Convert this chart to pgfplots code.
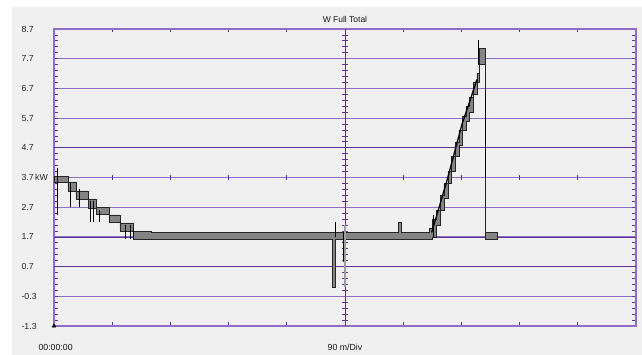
\documentclass[border=0pt]{standalone}
\usepackage{pgfplots}
\pgfplotsset{compat=1.18}
\usepackage{fontspec}
\setmainfont{Liberation Sans}
\definecolor{bgc}{HTML}{F0F0F0}
\definecolor{pdark}{HTML}{5E3399}
\definecolor{plight}{HTML}{8F6CC6}
\definecolor{bandc}{HTML}{848484}
\begin{document}
\begin{tikzpicture}
\fill[white] (-54bp,-29bp) rectangle (588bp,326bp);
\fill[bgc] (-42bp,-29bp) rectangle (588bp,319bp);
\begin{axis}[
  at={(0,0)}, anchor=south west,
  scale only axis, width=582bp, height=297bp,
  xmin=0, xmax=900, ymin=-1.3, ymax=8.7,
  axis line style={draw=plight, line width=1.2pt},
  xtick={0,90,180,270,360,450,540,630,720,810,900},
  xticklabels={},
  ytick={-1.3,-0.3,0.7,1.7,2.7,3.7,4.7,5.7,6.7,7.7,8.7},
  yticklabels={-1.3,-0.3,0.7,1.7,2.7,3.7\,kW,4.7,5.7,6.7,7.7,8.7},
  minor y tick num=4,
  tick align=inside,
  major tick length=3.5bp, minor tick length=4bp,
  tick style={draw=pdark, line width=0.8pt},
  yticklabel style={anchor=west, xshift=-36bp, font=\fontsize{8.8}{10}\selectfont, text=black!85},
  ymajorgrids,
  major grid style={draw=plight, line width=1.1pt},
  clip=false,
]
% darker grid lines
\addplot[pdark, line width=0.8pt, unbounded coords=jump] coordinates {
(0,4.7) (900,4.7) (900,nan) (0,1.7) (900,1.7) (900,nan) (0,0.7) (900,0.7)};
% centre vertical line
\addplot[pdark, line width=0.9pt] coordinates {(450,-1.3) (450,8.7)};
% crosshair ticks (vertical centre line, every 0.2)
\addplot[pdark, line width=0.8pt, unbounded coords=jump] coordinates {
(445.4,-1.1)(454.6,-1.1)(0,nan) (445.4,-0.9)(454.6,-0.9)(0,nan) (445.4,-0.7)(454.6,-0.7)(0,nan) (445.4,-0.5)(454.6,-0.5)(0,nan)
(445.4,-0.1)(454.6,-0.1)(0,nan) (445.4,0.1)(454.6,0.1)(0,nan) (445.4,0.3)(454.6,0.3)(0,nan) (445.4,0.5)(454.6,0.5)(0,nan)
(445.4,0.9)(454.6,0.9)(0,nan) (445.4,1.1)(454.6,1.1)(0,nan) (445.4,1.3)(454.6,1.3)(0,nan) (445.4,1.5)(454.6,1.5)(0,nan)
(445.4,1.9)(454.6,1.9)(0,nan) (445.4,2.1)(454.6,2.1)(0,nan) (445.4,2.3)(454.6,2.3)(0,nan) (445.4,2.5)(454.6,2.5)(0,nan)
(445.4,2.9)(454.6,2.9)(0,nan) (445.4,3.1)(454.6,3.1)(0,nan) (445.4,3.3)(454.6,3.3)(0,nan) (445.4,3.5)(454.6,3.5)(0,nan)
(445.4,3.9)(454.6,3.9)(0,nan) (445.4,4.1)(454.6,4.1)(0,nan) (445.4,4.3)(454.6,4.3)(0,nan) (445.4,4.5)(454.6,4.5)(0,nan)
(445.4,4.9)(454.6,4.9)(0,nan) (445.4,5.1)(454.6,5.1)(0,nan) (445.4,5.3)(454.6,5.3)(0,nan) (445.4,5.5)(454.6,5.5)(0,nan)
(445.4,5.9)(454.6,5.9)(0,nan) (445.4,6.1)(454.6,6.1)(0,nan) (445.4,6.3)(454.6,6.3)(0,nan) (445.4,6.5)(454.6,6.5)(0,nan)
(445.4,6.9)(454.6,6.9)(0,nan) (445.4,7.1)(454.6,7.1)(0,nan) (445.4,7.3)(454.6,7.3)(0,nan) (445.4,7.5)(454.6,7.5)(0,nan)
(445.4,7.9)(454.6,7.9)(0,nan) (445.4,8.1)(454.6,8.1)(0,nan) (445.4,8.3)(454.6,8.3)(0,nan) (445.4,8.5)(454.6,8.5)
};
% crosshair ticks (horizontal centre line at 3.7)
\addplot[pdark, line width=0.8pt, unbounded coords=jump] coordinates {
(90,3.6)(90,3.8)(90,nan) (180,3.6)(180,3.8)(180,nan) (270,3.6)(270,3.8)(270,nan) (360,3.6)(360,3.8)(360,nan)
(540,3.6)(540,3.8)(540,nan) (630,3.6)(630,3.8)(630,nan) (720,3.6)(720,3.8)(720,nan) (810,3.6)(810,3.8)
};
% min / max band (upper envelope, then lower envelope reversed)
\addplot[fill=bandc, draw=black!85, line width=0.6pt] coordinates {
(0,3.75)(21.6,3.75)(21.6,3.55)(34,3.55)(34,3.25)(52.6,3.25)(52.6,2.98)(65,2.98)(65,2.70)(85,2.70)(85,2.44)(102,2.44)(102,2.17)(122,2.17)(122,1.88)(151,1.88)(151,1.86)(533,1.86)(533,2.2)(537,2.2)(537,1.86)(581,1.86)(581,2.0)(585,2.0)(585,2.3)(591,2.3)(591,2.6)(597,2.6)(597,3.1)(603,3.1)(603,3.5)(609,3.5)(609,3.9)(615,3.9)(615,4.4)(620,4.4)(620,4.9)(626,4.9)(626,5.3)(631,5.3)(631,5.75)(637,5.75)(637,6.1)(642,6.1)(642,6.4)(648,6.4)(648,6.9)(654,6.9)(654,7.2)(657,7.2)(657,8.06)(667,8.06)(667,1.86)(685,1.86)
(685,1.63)(667,1.63)(667,7.52)(657,7.52)(657,6.9)(654,6.9)(654,6.5)(648,6.5)(648,5.9)(642,5.9)(642,5.6)(637,5.6)(637,5.3)(631,5.3)(631,4.8)(626,4.8)(626,4.4)(620,4.4)(620,3.9)(615,3.9)(615,3.5)(609,3.5)(609,3.0)(603,3.0)(603,2.6)(597,2.6)(597,2.1)(591,2.1)(591,1.7)(585,1.7)(585,1.63)(435,1.63)(435,0.0)(431,0.0)(431,1.63)(122,1.63)(122,1.90)(102,1.90)(102,2.2)(85,2.2)(85,2.47)(65,2.47)(65,2.67)(52.6,2.67)(52.6,2.98)(34,2.98)(34,3.25)(21.6,3.25)(21.6,3.55)(0,3.55)(0,3.75)
};
% spikes
\addplot[black, line width=0.7pt, unbounded coords=jump] coordinates {
(4.6,4.02) (4.6,2.45) (4.6,nan)
(24.7,3.5) (24.7,2.7) (24.7,nan)
(38.7,3.3) (38.7,2.7) (38.7,nan)
(55.7,2.9) (55.7,2.2) (55.7,nan)
(60.3,2.9) (60.3,2.2) (60.3,nan)
(69.6,2.6) (69.6,2.2) (69.6,nan)
(111,2.1) (111,1.63) (111,nan)
(117.5,2.1) (117.5,1.63) (117.5,nan)
(122,2.0) (122,1.63) (122,nan)
(434.5,2.2) (434.5,1.7) (434.5,nan)
(586,2.44) (586,1.7) (586,nan)
(655.5,8.33) (655.5,7.5)
};
\addplot[bandc!80!white, line width=2.2pt] coordinates {(450,2.1) (450,0.0)};
\addplot[black, line width=0.9pt] coordinates {(448,1.86) (448,0.85)};
\addplot[black, line width=1.4pt] coordinates {(667,6.6) (667,3.68)};
\addplot[black, line width=1.3pt] coordinates {(584,1.85) (597,2.8) (609,3.7) (620,4.6) (631,5.5) (642,6.2) (654,7.0)};
\addplot[black, only marks, mark=triangle*, mark size=2.2pt] coordinates {(0,-1.3)};
\node[font=\fontsize{8.5}{10}\selectfont, text=black!90] at (rel axis cs:0.5,1) [yshift=9.5bp] {W Full Total};
\node[font=\fontsize{8.8}{10}\selectfont, text=black!90, anchor=west] at (rel axis cs:0,0) [xshift=-19bp, yshift=-21bp] {00:00:00};
\node[font=\fontsize{8.8}{10}\selectfont, text=black!90] at (rel axis cs:0.5,0) [yshift=-21bp] {90 m/Div};
\end{axis}
\pgfresetboundingbox
\path[use as bounding box] (-54bp,-29bp) rectangle (588bp,326bp);
\end{tikzpicture}
\end{document}
